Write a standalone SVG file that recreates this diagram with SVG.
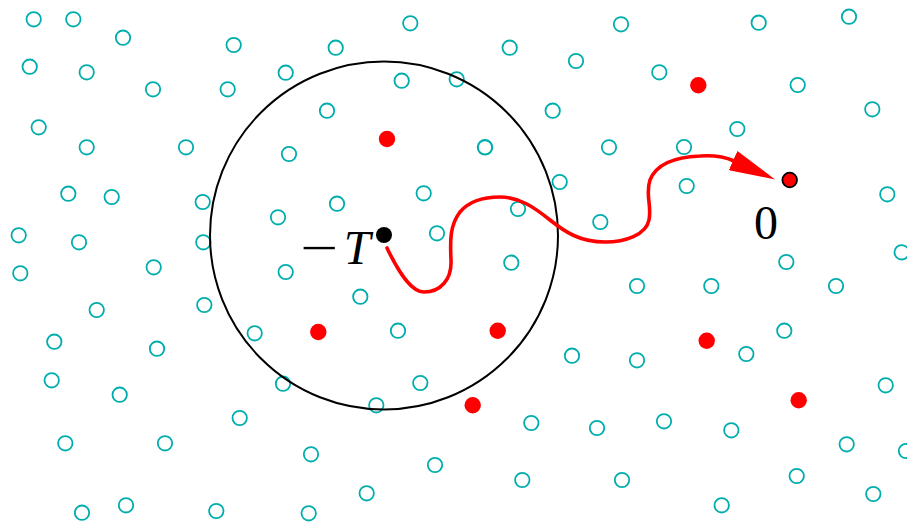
<svg xmlns="http://www.w3.org/2000/svg" width="907" height="523" viewBox="0 0 907 523">
<style>
.pt{fill:none;stroke:#00adad;stroke-width:1.8}
.rd{fill:#ff0000;stroke:none}
.lbl{font-family:"Liberation Serif","DejaVu Serif",serif;font-size:48px;fill:#000}
</style>
<defs>
<marker id="arrow" viewBox="0 0 46 21" refX="1" refY="10.5" markerWidth="46" markerHeight="21" markerUnits="userSpaceOnUse" orient="auto">
<path d="M0,0 L46,10.5 L0,21 z" fill="#ff0000"/>
</marker>
</defs>
<rect width="907" height="523" fill="#ffffff"/>
<g id="points">
<circle class="pt" cx="33.7" cy="19.3" r="7.2"/>
<circle class="pt" cx="73.3" cy="19.3" r="7.2"/>
<circle class="pt" cx="123" cy="37.7" r="7.2"/>
<circle class="pt" cx="233.7" cy="45" r="7.2"/>
<circle class="pt" cx="29.7" cy="66.7" r="7.2"/>
<circle class="pt" cx="86.7" cy="72.3" r="7.2"/>
<circle class="pt" cx="153" cy="89.3" r="7.2"/>
<circle class="pt" cx="227.7" cy="89.3" r="7.2"/>
<circle class="pt" cx="285.7" cy="72.7" r="7.2"/>
<circle class="pt" cx="38.7" cy="127.3" r="7.2"/>
<circle class="pt" cx="86.7" cy="147.3" r="7.2"/>
<circle class="pt" cx="186" cy="147.3" r="7.2"/>
<circle class="pt" cx="289" cy="154" r="7.2"/>
<circle class="pt" cx="68.3" cy="193.7" r="7.2"/>
<circle class="pt" cx="111.7" cy="197" r="7.2"/>
<circle class="pt" cx="202.7" cy="202" r="7.2"/>
<circle class="pt" cx="278" cy="217.3" r="7.2"/>
<circle class="pt" cx="18.7" cy="235.3" r="7.2"/>
<circle class="pt" cx="79" cy="242.3" r="7.2"/>
<circle class="pt" cx="203.3" cy="242.3" r="7.2"/>
<circle class="pt" cx="410.3" cy="23.3" r="7.2"/>
<circle class="pt" cx="335.7" cy="47.7" r="7.2"/>
<circle class="pt" cx="509.7" cy="47.7" r="7.2"/>
<circle class="pt" cx="576" cy="61" r="7.2"/>
<circle class="pt" cx="401.7" cy="80.7" r="7.2"/>
<circle class="pt" cx="456.7" cy="79.3" r="7.2"/>
<circle class="pt" cx="327" cy="110.7" r="7.2"/>
<circle class="pt" cx="552.7" cy="110.7" r="7.2"/>
<circle class="pt" cx="485" cy="147.3" r="7.2" style="stroke-width:2.1"/>
<circle class="pt" cx="609" cy="147.3" r="7.2"/>
<circle class="pt" cx="559.7" cy="182" r="7.2"/>
<circle class="pt" cx="423.7" cy="193.3" r="7.2"/>
<circle class="pt" cx="337" cy="203.7" r="7.2"/>
<circle class="pt" cx="518" cy="209" r="7.2"/>
<circle class="pt" cx="600.3" cy="222" r="7.2"/>
<circle class="pt" cx="437" cy="233.3" r="7.2"/>
<circle class="pt" cx="621" cy="24.3" r="7.2"/>
<circle class="pt" cx="758.7" cy="22.7" r="7.2"/>
<circle class="pt" cx="849" cy="16.7" r="7.2"/>
<circle class="pt" cx="659.3" cy="72.3" r="7.2"/>
<circle class="pt" cx="797.7" cy="85" r="7.2"/>
<circle class="pt" cx="872.3" cy="109.3" r="7.2"/>
<circle class="pt" cx="737.3" cy="129" r="7.2"/>
<circle class="pt" cx="684" cy="147" r="7.2"/>
<circle class="pt" cx="686.7" cy="186" r="7.2"/>
<circle class="pt" cx="887.3" cy="194.3" r="7.2"/>
<circle class="pt" cx="901.7" cy="252.3" r="7.2"/>
<circle class="pt" cx="786.3" cy="262" r="7.2"/>
<circle class="pt" cx="20.3" cy="273.3" r="7.2"/>
<circle class="pt" cx="153.7" cy="267.3" r="7.2"/>
<circle class="pt" cx="285.7" cy="272" r="7.2"/>
<circle class="pt" cx="96.7" cy="310" r="7.2"/>
<circle class="pt" cx="204.3" cy="305" r="7.2"/>
<circle class="pt" cx="254.7" cy="333.3" r="7.2"/>
<circle class="pt" cx="54.3" cy="341.7" r="7.2"/>
<circle class="pt" cx="157" cy="348.7" r="7.2"/>
<circle class="pt" cx="51.7" cy="380.3" r="7.2"/>
<circle class="pt" cx="283" cy="383.7" r="7.2"/>
<circle class="pt" cx="119.7" cy="394.7" r="7.2"/>
<circle class="pt" cx="239.7" cy="418" r="7.2"/>
<circle class="pt" cx="65.3" cy="443.3" r="7.2"/>
<circle class="pt" cx="165" cy="443.3" r="7.2"/>
<circle class="pt" cx="311" cy="454.3" r="7.2"/>
<circle class="pt" cx="82" cy="512.7" r="7.2"/>
<circle class="pt" cx="126" cy="505.3" r="7.2"/>
<circle class="pt" cx="216.3" cy="511" r="7.2"/>
<circle class="pt" cx="308.7" cy="513.3" r="7.2"/>
<circle class="pt" cx="511.3" cy="262.7" r="7.2"/>
<circle class="pt" cx="360.3" cy="296.7" r="7.2"/>
<circle class="pt" cx="398" cy="330.7" r="7.2"/>
<circle class="pt" cx="572" cy="355.7" r="7.2"/>
<circle class="pt" cx="420.3" cy="383" r="7.2"/>
<circle class="pt" cx="376.3" cy="405.3" r="7.2"/>
<circle class="pt" cx="531.3" cy="423" r="7.2"/>
<circle class="pt" cx="597" cy="428" r="7.2"/>
<circle class="pt" cx="435" cy="465" r="7.2"/>
<circle class="pt" cx="522.3" cy="480" r="7.2"/>
<circle class="pt" cx="366.7" cy="493.3" r="7.2"/>
<circle class="pt" cx="637" cy="286" r="7.2"/>
<circle class="pt" cx="711.3" cy="286" r="7.2"/>
<circle class="pt" cx="836" cy="286" r="7.2"/>
<circle class="pt" cx="784.3" cy="330.7" r="7.2"/>
<circle class="pt" cx="746.3" cy="354" r="7.2"/>
<circle class="pt" cx="637" cy="360.3" r="7.2"/>
<circle class="pt" cx="885.7" cy="385.3" r="7.2"/>
<circle class="pt" cx="664" cy="421.3" r="7.2"/>
<circle class="pt" cx="731.3" cy="430.3" r="7.2"/>
<circle class="pt" cx="846.7" cy="444.3" r="7.2"/>
<circle class="pt" cx="906" cy="451" r="7.2"/>
<circle class="pt" cx="622" cy="480" r="7.2"/>
<circle class="pt" cx="796.7" cy="476" r="7.2"/>
<circle class="pt" cx="873.3" cy="494" r="7.2"/>
<circle class="pt" cx="721.7" cy="505.3" r="7.2"/>
</g>
<g id="red-points">
<circle class="rd" cx="387" cy="139" r="8.2"/>
<circle class="rd" cx="698.3" cy="85.3" r="8.2"/>
<circle class="rd" cx="318.3" cy="332" r="8.2"/>
<circle class="rd" cx="497.7" cy="330.7" r="8.2"/>
<circle class="rd" cx="472.7" cy="405.3" r="8.2"/>
<circle class="rd" cx="706.7" cy="340.7" r="8.2"/>
<circle class="rd" cx="798.7" cy="400.3" r="8.2"/>
</g>
<g id="ball">
<circle cx="384" cy="235.5" r="174" fill="none" stroke="#000" stroke-width="2"/>
</g>
<g id="connectors">
<path d="M387,248 C400,275 412,292 424,292 C440,292 452,280 451,260 C450,240 450,225 460,212 C470,200 485,197 500,197 C520,197 535,208 550,220 C565,232 580,242 605,242 C625,242 646,235 649,220 C652,205 645,195 650,180 C656,165 672,157 700,156 C714,155 724,156.5 734,161" fill="none" stroke="#ff0000" stroke-width="3.6" stroke-linecap="round" marker-end="url(#arrow)"/>
</g>
<g id="node-minusT">
<circle cx="384" cy="235" r="8" fill="#000"/>
<text class="lbl" transform="translate(319,264) scale(1.4,1)" x="0" y="0" text-anchor="middle">−</text>
<text class="lbl" x="357" y="264" text-anchor="middle" font-style="italic" font-size="50">T</text>
</g>
<g id="node-zero">
<circle cx="789.7" cy="180" r="7.3" fill="#ff0000" stroke="#000" stroke-width="1.8"/>
<text class="lbl" x="766" y="239" text-anchor="middle">0</text>
</g>
</svg>
